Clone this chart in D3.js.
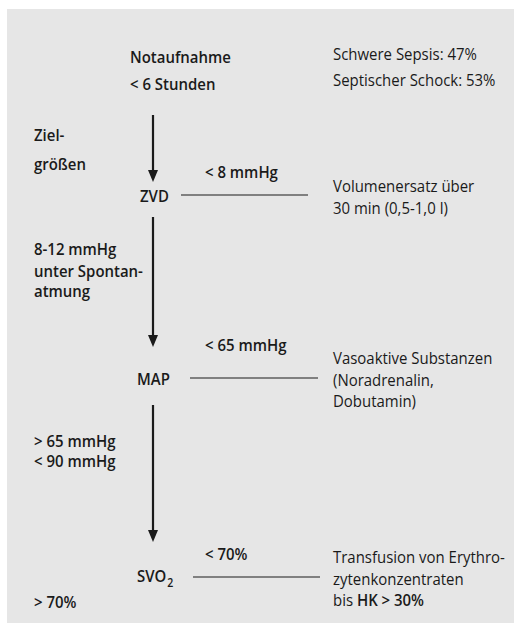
<!DOCTYPE html>
<html lang="de">
<head>
<meta charset="UTF-8">
<title>Early goal-directed therapy</title>
<script src="https://d3js.org/d3.v7.min.js"></script>
<style>
  body { margin: 0; background: #fff; }
  svg { display: block; }
  text { font-family: "Open Sans", "Noto Sans", sans-serif; font-size: 17px; fill: #1a1a1a; }
  .b { font-weight: 600; }
</style>
</head>
<body>
<svg></svg>
<script>
// data
const header = ["Notaufnahme", "< 6 Stunden"];
const stats = ["Schwere Sepsis: 47%", "Septischer Schock: 53%"];
const steps = ["ZVD", "MAP", "SVO"];
const thresholds = ["< 8 mmHg", "< 65 mmHg", "< 70%"];
const actions = [
  ["Volumenersatz über", "30 min (0,5-1,0 l)"],
  ["Vasoaktive Substanzen", "(Noradrenalin,", "Dobutamin)"],
  ["Transfusion von Erythro-", "zytenkonzentraten", "bis |HK > 30%"]
];
const targets = [
  ["Ziel-", "größen"],
  ["8-12 mmHg", "unter Spontan-", "atmung"],
  ["> 65 mmHg", "< 90 mmHg"],
  ["> 70%"]
];

// layout
const W = 514, H = 633;
const SX = 0.88; // horizontal squeeze to mimic a condensed humanist face
const arrowX = 153;
const arrows = [[115, 182], [217, 347], [405, 542]];
const rowY = [195, 378, 577];
const lineX = [[181, 308], [190, 318], [193, 320]];
const labelX = [140, 137, 137];
const threshY = [178, 351, 560];
const actionY = [192, 364, 563];
const targetY = [[141, 170], [255, 277, 297], [447, 467], [608]];

const svg = d3.select("svg").attr("width", W).attr("height", H);

svg.append("rect")
  .attr("x", 7).attr("y", 9)
  .attr("width", W - 7).attr("height", 614)
  .attr("fill", "#e6e6e6");

function txt(x, y, cls) {
  return svg.append("text")
    .attr("class", cls || null)
    .attr("transform", `translate(${x},${y}) scale(${SX},1)`);
}

// header
header.forEach((s, i) => txt(130, 63 + i * 27, "b").text(s));
stats.forEach((s, i) => txt(333, 60 + i * 26).text(s));

// arrows
svg.selectAll(".arr").data(arrows).join("line")
  .attr("class", "arr")
  .attr("x1", arrowX).attr("x2", arrowX)
  .attr("y1", d => d[0]).attr("y2", d => d[1] - 11)
  .attr("stroke", "#1a1a1a").attr("stroke-width", 2.2);

svg.selectAll(".ahd").data(arrows).join("path")
  .attr("class", "ahd")
  .attr("d", d => `M${arrowX - 5},${d[1] - 12}L${arrowX + 5},${d[1] - 12}L${arrowX},${d[1]}Z`)
  .attr("fill", "#1a1a1a");

// horizontal connectors
svg.selectAll(".conn").data(steps).join("line")
  .attr("class", "conn")
  .attr("x1", (d, i) => lineX[i][0]).attr("x2", (d, i) => lineX[i][1])
  .attr("y1", (d, i) => rowY[i]).attr("y2", (d, i) => rowY[i])
  .attr("stroke", "#1a1a1a").attr("stroke-width", 1);

// step labels, thresholds, actions
steps.forEach((s, i) => {
  const t = txt(labelX[i], rowY[i] + (i === 2 ? 5 : 7), "b").text(s);
  if (i === 2) {
    t.append("tspan").attr("dy", 5).attr("dx", 1)
      .style("font-size", "12px").text("2");
  }
  txt(205, threshY[i], "b").text(thresholds[i]);
  actions[i].forEach((line, j) => {
    const a = txt(333, actionY[i] + j * 21.5);
    const parts = line.split("|");
    a.append("tspan").text(parts[0]);
    if (parts[1]) a.append("tspan").attr("class", "b").text(parts[1]);
  });
});

// targets (left column)
targets.forEach((lines, i) => {
  lines.forEach((s, j) => txt(34, targetY[i][j], "b").text(s));
});
</script>
</body>
</html>
